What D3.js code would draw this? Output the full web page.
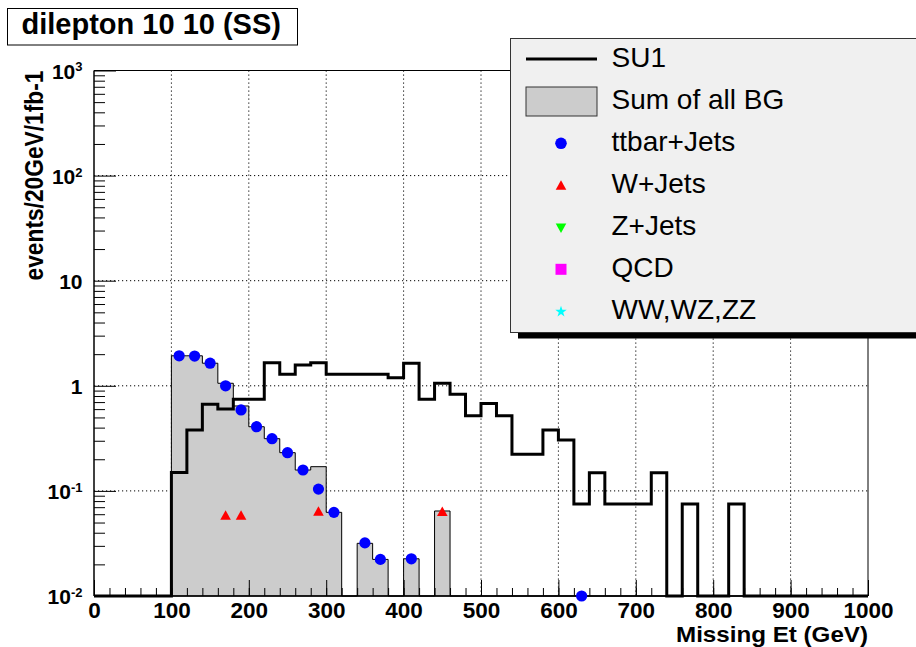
<!DOCTYPE html>
<html>
<head>
<meta charset="utf-8">
<script src="https://cdn.jsdelivr.net/npm/d3@7"></script>
<style>
  html, body { margin: 0; padding: 0; background: #ffffff; }
  svg { display: block; }
  text { font-family: "Liberation Sans", Arial, Helvetica, sans-serif; }
</style>
</head>
<body>
<svg id="chart" width="916" height="647"></svg>
<script>
// ---------------- DATA ----------------
const titleText = "dilepton 10 10 (SS)";
const xTitle = "Missing Et (GeV)";
const yTitle = "events/20GeV/1fb-1";

// histogram bin lower edges (20 GeV bins, 0..1000)
const binLow = [0,20,40,60,80,100,120,140,160,180,200,220,240,260,280,300,320,340,360,380,
                400,420,440,460,480,500,520,540,560,580,600,620,640,660,680,700,720,740,760,780,
                800,820,840,860,880,900,920,940,960,980];
const binWidth = 20;

// SU1 signal histogram
const su1 = [0,0,0,0,0,
             0.150,0.379,0.667,0.602,0.744,0.744,1.66,1.29,1.58,1.66,
             1.29,1.29,1.29,1.29,1.19,1.64,0.743,1.06,0.83,0.52,
             0.68,0.52,0.223,0.223,0.379,0.305,0.075,0.149,0.075,0.075,
             0.075,0.149,0,0.075,0,0,0.075,0,0,0,
             0,0,0,0,0];

// Sum of all backgrounds
const bgSum = [0,0,0,0,0,
               1.93,1.93,1.64,1.057,0.643,0.408,0.314,0.231,0.158,0.170,
               0.0625,0,0.0317,0.0223,0,0.0226,0,0.0644,0,0,
               0,0,0,0,0,0,0.01,0,0,0,
               0,0,0,0,0,0,0,0,0,0,
               0,0,0,0,0];

// ttbar+Jets points (bin centres, values)
const ttbarX = [110,130,150,170,190,210,230,250,270,290,310,350,370,410,630];
const ttbarY = [1.93,1.92,1.64,1.00,0.589,0.408,0.314,0.231,0.158,0.104,0.0625,0.032,0.0223,0.0226,0.01];

// W+Jets points
const wjX = [170,190,290,450];
const wjY = [0.058,0.058,0.0634,0.063];

// axis ticks
const xTickValues = [0,100,200,300,400,500,600,700,800,900,1000];
const xTickLabels = ["0","100","200","300","400","500","600","700","800","900","1000"];
const yTickValues = [0.01,0.1,1,10,100,1000];
const yTickBase = ["10","10","1","10","10","10"];
const yTickExp = ["-2","-1","","","2","3"];

const legendLabels = ["SU1","Sum of all BG","ttbar+Jets","W+Jets","Z+Jets","QCD","WW,WZ,ZZ"];
const legendColors = ["#000000","#cccccc","#0000ff","#ff0000","#00ff00","#ff00ff","#00ffff"];

// ---------------- LAYOUT ----------------
const L = 94, R = 868, T = 70.5, B = 596;
const yMin = 0.01, yMax = 1000;

const svg = d3.select("#chart");
const x = d3.scaleLinear().domain([0, 1000]).range([L, R]);
const y = d3.scaleLog().domain([yMin, yMax]).range([B, T]);
const yc = v => (v <= yMin ? B : y(v));

// grid
const gGrid = svg.append("g");
gGrid.selectAll("line.gx").data(xTickValues.filter(v => v > 0 && v < 1000)).enter()
  .append("line")
  .attr("x1", d => x(d)).attr("x2", d => x(d))
  .attr("y1", T).attr("y2", B)
  .attr("stroke", "#000").attr("stroke-width", 1)
  .attr("stroke-dasharray", "1.2,2.8");
gGrid.selectAll("line.gy").data(yTickValues.filter(v => v > yMin && v < yMax)).enter()
  .append("line")
  .attr("x1", L).attr("x2", R)
  .attr("y1", d => y(d)).attr("y2", d => y(d))
  .attr("stroke", "#000").attr("stroke-width", 1)
  .attr("stroke-dasharray", "1.2,2.8");

// step path builder
function stepPath(vals) {
  const p = d3.path();
  p.moveTo(x(binLow[0]), B);
  vals.forEach((v, i) => {
    const yy = yc(v);
    p.lineTo(x(binLow[i]), yy);
    p.lineTo(x(binLow[i] + binWidth), yy);
  });
  p.lineTo(x(binLow[binLow.length - 1] + binWidth), B);
  return p.toString();
}

// background sum (filled)
svg.append("path")
  .attr("d", stepPath(bgSum) + "Z")
  .attr("fill", "#cccccc")
  .attr("stroke", "#000")
  .attr("stroke-width", 1)
  .attr("stroke-linejoin", "miter");

// SU1 line
svg.append("path")
  .attr("d", stepPath(su1))
  .attr("fill", "none")
  .attr("stroke", "#000")
  .attr("stroke-width", 3)
  .attr("stroke-linejoin", "miter");

// axes
const xMinor = d3.range(0, 1001, 20);
const gxMinor = svg.append("g").attr("transform", `translate(0,${B})`)
  .call(d3.axisBottom(x).tickValues(xMinor).tickSize(-8).tickFormat(""));
const gx = svg.append("g").attr("transform", `translate(0,${B})`)
  .call(d3.axisBottom(x).tickValues(xTickValues).tickSize(-16)
        .tickFormat((d, i) => xTickLabels[i]));
[gxMinor, gx].forEach(g => {
  g.select(".domain").remove();
  g.selectAll(".tick line").attr("stroke", "#000").attr("stroke-width", 1);
});
gx.selectAll(".tick text")
  .attr("y", 22).attr("dy", 0)
  .attr("font-size", 22.5).attr("font-weight", "bold").attr("fill", "#000")
  .attr("font-family", "'Liberation Sans', Arial, sans-serif");

const yMinorVals = [];
yTickValues.slice(0, -1).forEach(d => { for (let k = 2; k <= 9; k++) yMinorVals.push(d * k); });
const gyMinor = svg.append("g").attr("transform", `translate(${L},0)`)
  .call(d3.axisLeft(y).tickValues(yMinorVals).tickSize(-11).tickFormat(""));
const gy = svg.append("g").attr("transform", `translate(${L},0)`)
  .call(d3.axisLeft(y).tickValues(yTickValues).tickSize(-22).tickFormat(""));
[gyMinor, gy].forEach(g => {
  g.select(".domain").remove();
  g.selectAll(".tick line").attr("stroke", "#000").attr("stroke-width", 1);
});
gy.selectAll(".tick").each(function(d, i) {
  const t = d3.select(this).select("text");
  t.attr("x", -11.5).attr("dy", "0.36em").attr("text-anchor", "end")
   .attr("font-size", 21).attr("font-weight", "bold").attr("fill", "#000")
   .attr("font-family", "'Liberation Sans', Arial, sans-serif");
  t.append("tspan").text(yTickBase[i]);
  if (yTickExp[i]) {
    t.append("tspan").attr("dy", "-0.55em").attr("font-size", 13).text(yTickExp[i]);
  }
});

// frame
svg.append("line").attr("x1", L).attr("x2", L).attr("y1", T).attr("y2", B)
  .attr("stroke", "#000").attr("stroke-width", 1.5);
svg.append("line").attr("x1", L).attr("x2", R).attr("y1", B).attr("y2", B)
  .attr("stroke", "#000").attr("stroke-width", 1.5);
svg.append("line").attr("x1", R).attr("x2", R).attr("y1", T).attr("y2", B)
  .attr("stroke", "#000").attr("stroke-width", 1);
svg.append("line").attr("x1", L).attr("x2", R).attr("y1", T).attr("y2", T)
  .attr("stroke", "#000").attr("stroke-width", 1);

// markers
const triUp = "M0,-5.5L5.3,4L-5.3,4Z";
const triDown = "M0,5.5L5.3,-4L-5.3,-4Z";
svg.append("g").selectAll("circle").data(ttbarX).enter().append("circle")
  .attr("cx", d => x(d)).attr("cy", (d, i) => yc(ttbarY[i])).attr("r", 5.6)
  .attr("fill", legendColors[2]);
svg.append("g").selectAll("path").data(wjX).enter().append("path")
  .attr("d", triUp)
  .attr("transform", (d, i) => `translate(${x(d)},${yc(wjY[i])})`)
  .attr("fill", legendColors[3]);

// axis titles
svg.append("text").attr("x", R).attr("y", 642).attr("text-anchor", "end")
  .attr("font-size", 22).attr("font-weight", "bold")
  .attr("textLength", 192).attr("lengthAdjust", "spacingAndGlyphs").text(xTitle);
svg.append("text").attr("transform", `translate(43,${T}) rotate(-90)`)
  .attr("text-anchor", "end")
  .attr("font-size", 25).attr("font-weight", "bold")
  .attr("textLength", 210).attr("lengthAdjust", "spacingAndGlyphs").text(yTitle);

// title box
svg.append("rect").attr("x", 7.5).attr("y", 8.5).attr("width", 290).attr("height", 36.5)
  .attr("fill", "#fff").attr("stroke", "#000").attr("stroke-width", 1);
svg.append("text").attr("x", 21.5).attr("y", 33.5)
  .attr("font-size", 29).attr("font-weight", "bold").text(titleText);

// legend
const lg = svg.append("g");
lg.append("rect").attr("x", 518).attr("y", 332.5).attr("width", 420).attr("height", 6)
  .attr("fill", "#000");
lg.append("rect").attr("x", 510.5).attr("y", 38.5).attr("width", 420).attr("height", 294)
  .attr("fill", "#f0f0f0").attr("stroke", "#333").attr("stroke-width", 1);
const rowY = [59, 101.3, 143.3, 185.7, 227.5, 269.3, 311.7];
const mx = 561;
lg.append("line").attr("x1", 526).attr("x2", 597).attr("y1", rowY[0]).attr("y2", rowY[0])
  .attr("stroke", "#000").attr("stroke-width", 3);
lg.append("rect").attr("x", 526).attr("y", 87).attr("width", 71).attr("height", 29)
  .attr("fill", "#cccccc").attr("stroke", "#333").attr("stroke-width", 1);
lg.append("circle").attr("cx", mx).attr("cy", rowY[2]).attr("r", 5.8).attr("fill", legendColors[2]);
lg.append("path").attr("d", triUp).attr("transform", `translate(${mx},${rowY[3]})`).attr("fill", legendColors[3]);
lg.append("path").attr("d", triDown).attr("transform", `translate(${mx},${rowY[4]})`).attr("fill", legendColors[4]);
lg.append("rect").attr("x", mx - 5.5).attr("y", rowY[5] - 5.5).attr("width", 11).attr("height", 11)
  .attr("fill", legendColors[5]);
lg.append("path").attr("d", d3.symbol(d3.symbolStar, 40)())
  .attr("transform", `translate(${mx},${rowY[6]})`).attr("fill", legendColors[6]);
lg.selectAll("text.leg").data(legendLabels).enter().append("text")
  .attr("x", 611.5).attr("y", (d, i) => rowY[i] + 7)
  .attr("dy", "0.02em")
  .attr("font-size", 28).attr("fill", "#000").text(d => d);
</script>
</body>
</html>
